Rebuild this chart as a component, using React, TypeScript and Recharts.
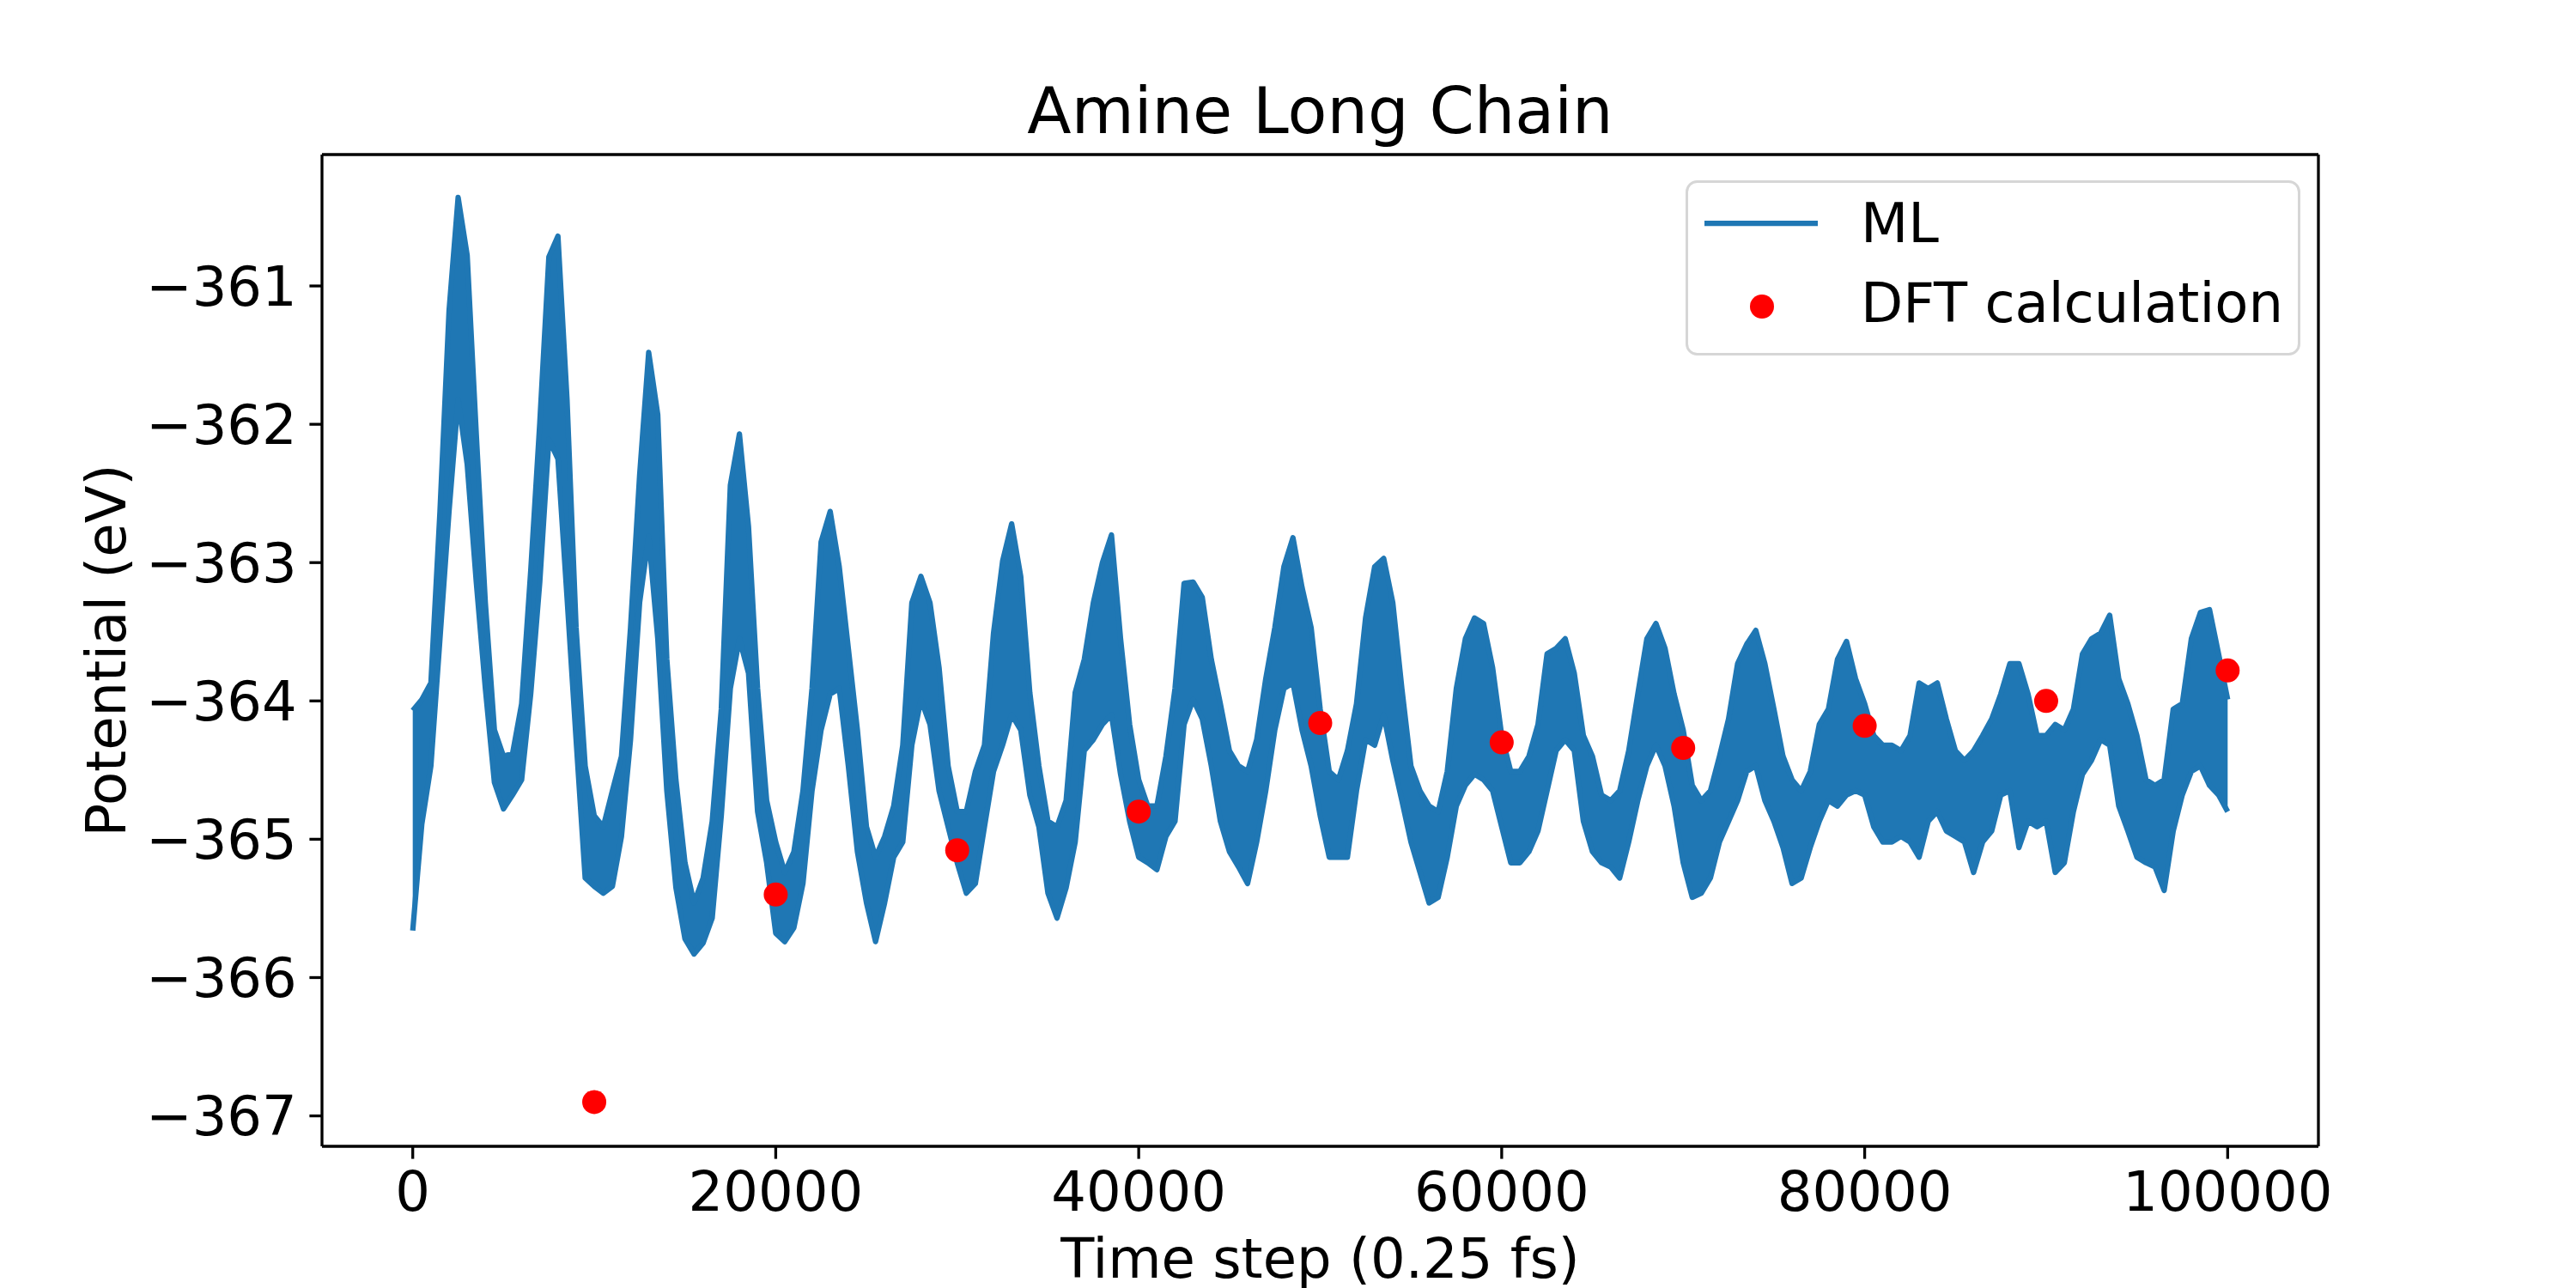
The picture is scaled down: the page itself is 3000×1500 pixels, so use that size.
import {
  Area,
  ComposedChart,
  Legend,
  Scatter,
  XAxis,
  YAxis,
} from "recharts";

// ML potential every 500 steps: upper and lower edge of the noisy trace
const mlHigh = [
  -364.07, -363.99, -363.87, -362.63, -361.18, -360.36, -360.78, -362.07, -363.29, -364.21,
  -364.4, -364.38, -364.02, -363.06, -361.99, -360.79, -360.64, -361.82, -363.47, -364.47,
  -364.83, -364.91, -364.65, -364.4, -363.47, -362.37, -361.48, -361.93, -363.7, -364.57,
  -365.17, -365.46, -365.28, -364.87, -364.06, -362.44, -362.07, -362.74, -363.91, -364.72,
  -365.02, -365.24, -365.09, -364.65, -363.91, -362.85, -362.63, -363.03, -363.62, -364.21,
  -364.91, -365.13, -364.98, -364.76, -364.32, -363.29, -363.1, -363.29, -363.76, -364.47,
  -364.8, -364.8, -364.51, -364.32, -363.51, -362.99, -362.72, -363.1, -363.94, -364.47,
  -364.87, -364.91, -364.72, -363.94, -363.7, -363.29, -363.0, -362.8, -363.55, -364.17,
  -364.57, -364.76, -364.76, -364.4, -363.91, -363.15, -363.14, -363.25, -363.7, -364.02,
  -364.36, -364.47, -364.51, -364.28, -363.84, -363.47, -363.03, -362.82, -363.18, -363.47,
  -364.06, -364.51, -364.57, -364.36, -364.02, -363.4, -363.03, -362.97, -363.29, -363.91,
  -364.47, -364.65, -364.76, -364.8, -364.51, -363.91, -363.55, -363.4, -363.44, -363.76,
  -364.25, -364.51, -364.51, -364.4, -364.17, -363.66, -363.62, -363.55, -363.8, -364.25,
  -364.4, -364.68, -364.72, -364.65, -364.36, -363.95, -363.55, -363.44, -363.62, -363.95,
  -364.21, -364.61, -364.72, -364.65, -364.4, -364.13, -363.73, -363.59, -363.49, -363.73,
  -364.06, -364.4, -364.57, -364.65, -364.51, -364.17, -364.06, -363.7, -363.57, -363.84,
  -364.02, -364.25, -364.32, -364.32, -364.36, -364.25, -363.87, -363.91, -363.87, -364.13,
  -364.36, -364.43, -364.36, -364.25, -364.13, -363.95, -363.73, -363.73, -363.95, -364.25,
  -364.25, -364.17, -364.21, -364.06, -363.66, -363.55, -363.51, -363.38, -363.84, -364.02,
  -364.25, -364.57, -364.61, -364.57, -364.06, -364.02, -363.55, -363.36, -363.34, -363.66,
  -363.99,
];

const mlLow = [
  -365.66, -364.89, -364.47, -363.55, -362.63, -361.82, -362.29, -363.14, -363.91, -364.59,
  -364.78, -364.68, -364.57, -363.95, -363.14, -362.11, -362.25, -363.25, -364.28, -365.28,
  -365.34, -365.39, -365.34, -364.98, -364.28, -363.29, -362.81, -363.55, -364.65, -365.35,
  -365.72, -365.83, -365.75, -365.57, -364.83, -363.91, -363.55, -363.8, -364.8, -365.17,
  -365.68, -365.74, -365.64, -365.32, -364.65, -364.21, -363.95, -363.91, -364.47, -365.09,
  -365.46, -365.74, -365.46, -365.13, -365.02, -364.32, -363.99, -364.17, -364.65, -364.91,
  -365.17, -365.39, -365.32, -364.91, -364.51, -364.32, -364.1, -364.21, -364.68, -364.91,
  -365.39, -365.57, -365.35, -365.02, -364.36, -364.28, -364.17, -364.1, -364.53, -364.87,
  -365.13, -365.17, -365.22, -364.98, -364.87, -364.17, -363.99, -364.13, -364.47, -364.87,
  -365.09, -365.2, -365.32, -365.02, -364.65, -364.21, -363.91, -363.87, -364.21, -364.47,
  -364.83, -365.13, -365.13, -365.13, -364.65, -364.28, -364.32, -364.1, -364.43, -364.72,
  -365.02, -365.24, -365.46, -365.42, -365.13, -364.76, -364.61, -364.53, -364.57, -364.65,
  -364.91, -365.17, -365.17, -365.09, -364.94, -364.65, -364.36, -364.28, -364.36, -364.87,
  -365.09, -365.17, -365.2, -365.28, -365.02, -364.72, -364.47, -364.32, -364.47, -364.76,
  -365.17, -365.42, -365.39, -365.28, -365.02, -364.87, -364.72, -364.51, -364.47, -364.72,
  -364.87, -365.06, -365.32, -365.28, -365.06, -364.87, -364.72, -364.76, -364.68, -364.65,
  -364.68, -364.91, -365.02, -365.02, -364.98, -365.02, -365.13, -364.87, -364.8, -364.94,
  -364.98, -365.02, -365.24, -365.02, -364.94, -364.68, -364.65, -365.06, -364.87, -364.91,
  -364.87, -365.24, -365.17, -364.8, -364.53, -364.43, -364.28, -364.32, -364.76, -364.94,
  -365.13, -365.17, -365.2, -365.37, -364.94, -364.68, -364.51, -364.47, -364.61, -364.68,
  -364.8,
];

const mlStep = 500;

// DFT single-point checks
const dftSteps = [10000, 20000, 30000, 40000, 50000, 60000, 70000, 80000, 90000, 100000];
const dftValues = [-366.9, -365.4, -365.08, -364.8, -364.16, -364.3, -364.34, -364.18, -364.0, -363.78];

const xTicks = [0, 20000, 40000, 60000, 80000, 100000];
const yTicks = [-367, -366, -365, -364, -363, -362, -361];

const BLUE = "#1f77b4";
const FONT = "DejaVu Sans";

const mlData = mlHigh.map((hi, i) => ({ t: i * mlStep, v: [mlLow[i], hi] }));
const dftData = dftSteps.map((t, i) => ({ t, v: dftValues[i] }));

const formatY = (v: number) => String(v).replace("-", "\u2212");

const AxisTitle = ({ px, py, text, size, rotate }: any) => (
  <text
    x={px}
    y={py}
    textAnchor="middle"
    fontFamily={FONT}
    fontSize={size}
    fill="#000"
    transform={rotate ? `rotate(-90 ${px} ${py})` : undefined}
  >
    {text}
  </text>
);

const LegendBox = () => (
  <svg width={716} height={204} style={{ display: "block" }}>
    <rect x={1.5} y={1.5} width={713} height={201} rx={12} fill="#fff" fillOpacity={0.8} stroke="#d6d6d6" strokeWidth={3} />
    <line x1={22} y1={50} x2={154} y2={50} stroke={BLUE} strokeWidth={6.25} />
    <text x={204} y={72} fontFamily={FONT} fontSize={64} fill="#000">ML</text>
    <circle cx={89} cy={147} r={14} fill="red" />
    <text x={204} y={165} fontFamily={FONT} fontSize={64} fill="#000">DFT calculation</text>
  </svg>
);

const Dot = (props: any) => <circle cx={props.cx} cy={props.cy} r={14} fill="red" />;

export default function App() {
  const axisLine = { stroke: "#000", strokeWidth: 3.3 };
  const tickStyle = { fill: "#000", fontSize: 64, fontFamily: FONT };
  return (
    <div style={{ position: "absolute", left: 0, top: 0, background: "#fff" }}>
      <ComposedChart
        width={3000}
        height={1500}
        margin={{ top: 0, right: 0, bottom: 0, left: 0 }}
      >
        <XAxis
          dataKey="t"
          type="number"
          domain={[-5000, 105000]}
          allowDataOverflow
          ticks={xTicks}
          interval={0}
          height={165}
          tickSize={14.6}
          tickMargin={14.6}
          axisLine={axisLine}
          tickLine={axisLine}
          tick={tickStyle}
          label={<AxisTitle px={1537.5} py={1488} text="Time step (0.25 fs)" size={64} />}
        />
        <XAxis
          xAxisId="top"
          orientation="top"
          type="number"
          domain={[-5000, 105000]}
          ticks={xTicks}
          height={180}
          tick={false}
          tickLine={false}
          axisLine={axisLine}
          label={<AxisTitle px={1537.5} py={155} text="Amine Long Chain" size={75} />}
        />
        <YAxis
          type="number"
          domain={[-367.22, -360.05]}
          allowDataOverflow
          ticks={yTicks}
          interval={0}
          width={375}
          tickSize={14.6}
          tickMargin={14.6}
          axisLine={axisLine}
          tickLine={axisLine}
          tick={tickStyle}
          tickFormatter={formatY}
          label={<AxisTitle px={146} py={757.5} text="Potential (eV)" size={64} rotate />}
        />
        <YAxis
          yAxisId="right"
          orientation="right"
          type="number"
          domain={[-367.22, -360.05]}
          ticks={yTicks}
          width={300}
          tick={false}
          tickLine={false}
          axisLine={axisLine}
        />
        <Area
          data={mlData}
          dataKey="v"
          name="ML"
          type="linear"
          stroke={BLUE}
          strokeWidth={6.25}
          strokeLinejoin="round"
          fill={BLUE}
          fillOpacity={1}
          dot={false}
          activeDot={false}
          isAnimationActive={false}
        />
        <Scatter
          data={dftData}
          dataKey="v"
          name="DFT calculation"
          fill="red"
          shape={Dot}
          isAnimationActive={false}
        />
        <Legend
          layout="vertical"
          align="center"
          verticalAlign="middle"
          wrapperStyle={{ left: 1963, top: 210, width: 716, height: 204 }}
          content={() => <LegendBox />}
        />
      </ComposedChart>
    </div>
  );
}
